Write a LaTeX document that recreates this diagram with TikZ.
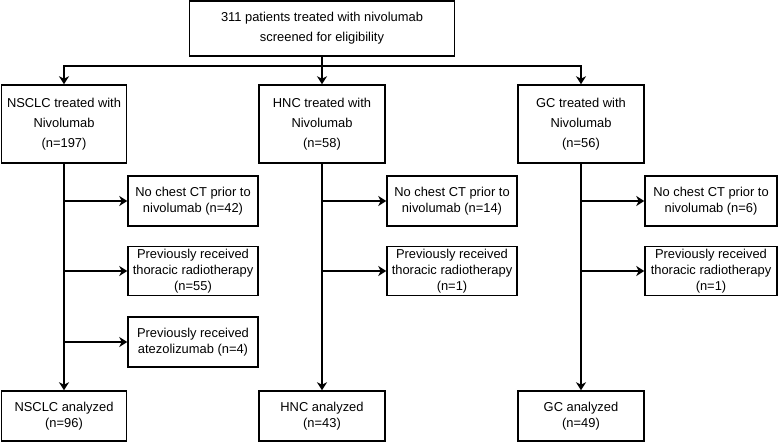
\documentclass[tikz,border=0pt]{standalone}
\usepackage{fontspec}
\setmainfont{Liberation Sans}
\usetikzlibrary{arrows.meta}
\begin{document}
\begin{tikzpicture}[x=1pt,y=-1pt,
  box/.style={draw, line width=1.5pt, rectangle, align=center, inner sep=0pt, font=\fontsize{12.9}{20}\selectfont},
  sbox/.style={box, font=\fontsize{12.9}{16}\selectfont},
  arr/.style={line width=2.6pt, -{Stealth[length=8pt,width=10pt,inset=2.5pt]}},
  ln/.style={line width=2.6pt}]
\useasboundingbox (0,0) rectangle (778,442);
\node[box, minimum width=265pt, minimum height=55pt] (top) at (322,28.5) {311 patients treated with nivolumab\\screened for eligibility};
\node[box, minimum width=125pt, minimum height=78pt] (nsclc) at (64,124) {NSCLC treated with\\Nivolumab\\(n=197)};
\node[box, minimum width=126pt, minimum height=78pt] (hnc) at (322,124) {HNC treated with\\Nivolumab\\(n=58)};
\node[box, minimum width=126pt, minimum height=78pt] (gc) at (581,124) {GC treated with\\Nivolumab\\(n=56)};
% exclusion boxes
\node[sbox, minimum width=130pt, minimum height=50pt] (n1) at (193,201) {No chest CT prior to\\nivolumab (n=42)};
\node[sbox, minimum width=130pt, minimum height=49pt] (n2) at (193,271) {Previously received\\thoracic radiotherapy\\(n=55)};
\node[sbox, minimum width=130pt, minimum height=50pt] (n3) at (193,342) {Previously received\\atezolizumab (n=4)};
\node[sbox, minimum width=130pt, minimum height=50pt] (h1) at (452,201) {No chest CT prior to\\nivolumab (n=14)};
\node[sbox, minimum width=130pt, minimum height=49pt] (h2) at (452,271) {Previously received\\thoracic radiotherapy\\(n=1)};
\node[sbox, minimum width=132pt, minimum height=50pt] (g1) at (711,201) {No chest CT prior to\\nivolumab (n=6)};
\node[sbox, minimum width=132pt, minimum height=49pt] (g2) at (711,271) {Previously received\\thoracic radiotherapy\\(n=1)};
% analyzed
\node[sbox, minimum width=125pt, minimum height=50pt] (na) at (64,416) {NSCLC analyzed\\(n=96)};
\node[sbox, minimum width=126pt, minimum height=50pt] (ha) at (322,416) {HNC analyzed\\(n=43)};
\node[sbox, minimum width=126pt, minimum height=50pt] (ga) at (581,416) {GC analyzed\\(n=49)};
% top connectors
\coordinate (j) at (322,66);
\draw[ln] (top.south) -- (j);
\draw[arr] (j) -| (nsclc.north);
\draw[arr] (j) -| (gc.north);
\draw[arr] (j) -- (hnc.north);
% stems
\draw[arr] (nsclc.south) -- (na.north);
\draw[arr] (hnc.south) -- (ha.north);
\draw[arr] (gc.south) -- (ga.north);
% side arrows
\foreach \b in {n1,n2,n3} \draw[arr] (nsclc.south |- \b.west) -- (\b.west);
\foreach \b in {h1,h2} \draw[arr] (hnc.south |- \b.west) -- (\b.west);
\foreach \b in {g1,g2} \draw[arr] (gc.south |- \b.west) -- (\b.west);
\end{tikzpicture}
\end{document}
